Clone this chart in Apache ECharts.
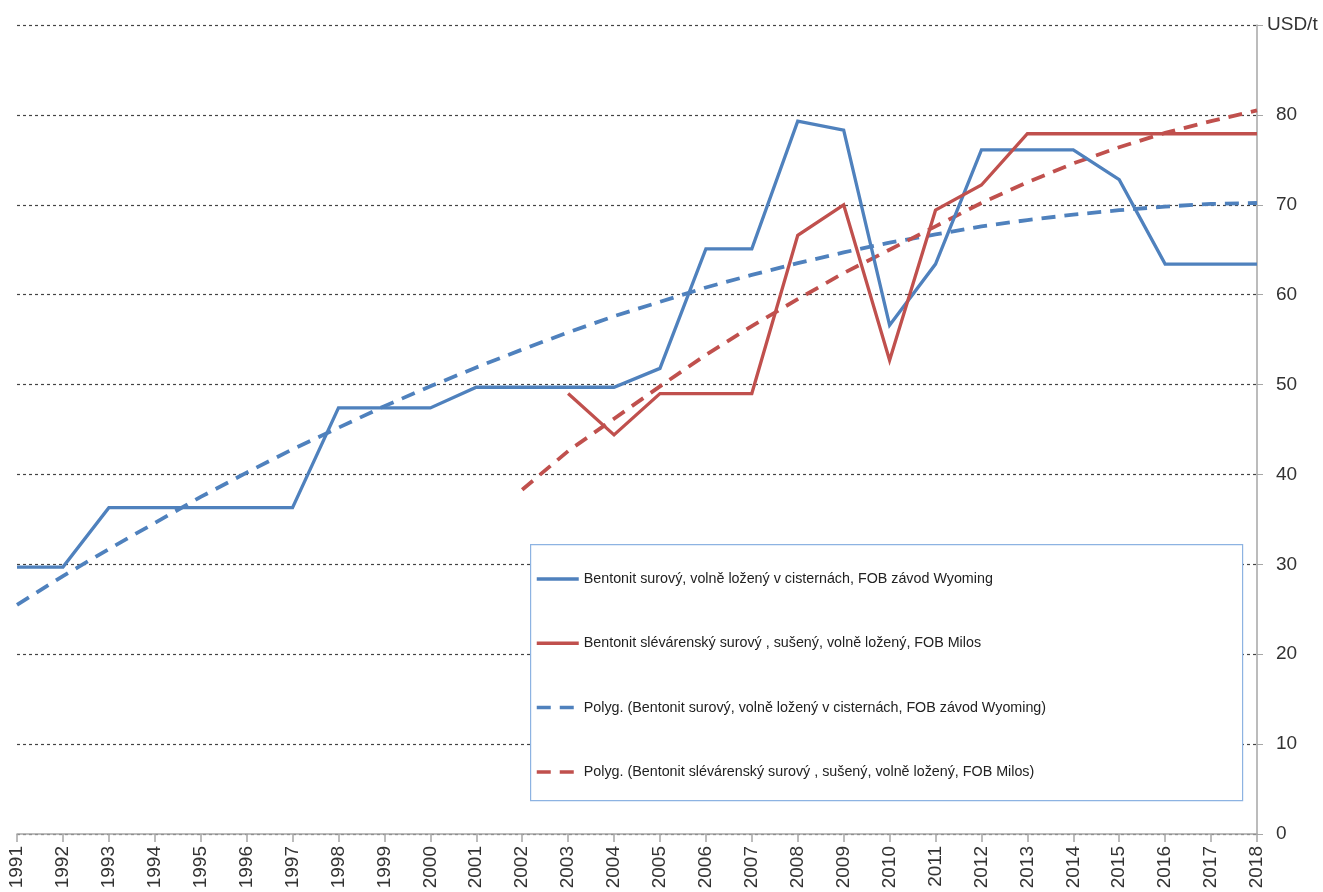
<!DOCTYPE html>
<html>
<head>
<meta charset="utf-8">
<title>Bentonit – ceny USD/t</title>
<script src="https://cdn.jsdelivr.net/npm/echarts@6/dist/echarts.min.js"></script>
<style>
  html, body { margin: 0; padding: 0; background: #fff; }
  #chart { width: 1323px; height: 892px; }
</style>
</head>
<body>
<div id="chart"></div>
<script>
// Years on the category axis
const years = ['1991','1992','1993','1994','1995','1996','1997','1998','1999','2000',
  '2001','2002','2003','2004','2005','2006','2007','2008','2009','2010',
  '2011','2012','2013','2014','2015','2016','2017','2018'];

// Bentonit surový, volně ložený v cisternách, FOB závod Wyoming (USD/t)
const wyoming = [29.7, 29.7, 36.3, 36.3, 36.3, 36.3, 36.3, 47.4, 47.4, 47.4,
  49.7, 49.7, 49.7, 49.7, 51.8, 65.1, 65.1, 79.3, 78.3, 56.6,
  63.4, 76.1, 76.1, 76.1, 72.8, 63.4, 63.4, 63.4];

// Bentonit slévárenský surový, sušený, volně ložený, FOB Milos (USD/t)
const milos = ['-', '-', '-', '-', '-', '-', '-', '-', '-', '-',
  '-', '-', 49.0, 44.4, 49.0, 49.0, 49.0, 66.6, 70.0, 52.7,
  69.4, 72.2, 77.9, 77.9, 77.9, 77.9, 77.9, 77.9];

// Polynomial trend of the Wyoming series
const wyomingTrend = [25.5, 28.7, 31.7, 34.6, 37.5, 40.2, 42.8, 45.2, 47.6, 49.8,
  51.9, 53.9, 55.8, 57.6, 59.2, 60.8, 62.2, 63.5, 64.7, 65.8,
  66.7, 67.6, 68.3, 68.9, 69.4, 69.8, 70.1, 70.2];

// Polynomial trend of the Milos series
const milosTrend = ['-', '-', '-', '-', '-', '-', '-', '-', '-', '-',
  '-', 38.3, 42.6, 46.2, 49.8, 53.3, 56.5, 59.5, 62.4, 65.0,
  67.6, 70.2, 72.5, 74.6, 76.4, 78.0, 79.3, 80.5];

const seriesNames = [
  'Bentonit surový, volně ložený v cisternách, FOB závod Wyoming',
  'Bentonit slévárenský surový , sušený, volně ložený, FOB Milos',
  'Polyg. (Bentonit surový, volně ložený v cisternách, FOB závod Wyoming)',
  'Polyg. (Bentonit slévárenský surový , sušený, volně ložený, FOB Milos)'
];

const BLUE = '#4f81bd';
const RED = '#c0504d';
const FONT = "'Liberation Sans', Arial, sans-serif";

const chart = echarts.init(document.getElementById('chart'), null, { renderer: 'canvas' });

function lineSeries(name, data, color, dashed) {
  return {
    name: name,
    type: 'line',
    data: data,
    symbol: 'none',
    showSymbol: false,
    connectNulls: false,
    smooth: false,
    lineStyle: {
      color: color,
      width: dashed ? 3.8 : 3.3,
      type: dashed ? [14, 9] : 'solid',
      cap: 'butt',
      join: 'miter'
    },
    itemStyle: { color: color },
    emphasis: { disabled: true },
    z: dashed ? 3 : 4
  };
}

chart.setOption({
  animation: false,
  backgroundColor: '#fff',
  grid: { left: 17, right: 66, top: 25, bottom: 58, containLabel: false },
  xAxis: {
    type: 'category',
    data: years,
    boundaryGap: false,
    axisLine: { show: true, lineStyle: { color: '#a6a6a6', width: 1.5 } },
    axisTick: { show: true, length: 8, lineStyle: { color: '#a6a6a6', width: 1.5 } },
    axisLabel: {
      rotate: 90,
      margin: 12,
      interval: 0,
      color: '#333',
      fontSize: 19,
      fontFamily: FONT
    },
    splitLine: { show: false }
  },
  yAxis: {
    type: 'value',
    position: 'right',
    min: 0,
    max: 90,
    interval: 10,
    axisLine: { show: true, lineStyle: { color: '#a6a6a6', width: 1.5 } },
    axisTick: { show: true, length: 6, lineStyle: { color: '#a6a6a6' } },
    axisLabel: {
      margin: 10,
      color: '#333',
      fontSize: 19,
      fontFamily: FONT,
      formatter: function (v) {
        return v === 90 ? 'USD/t' : '{n|' + v + '}';
      },
      rich: {
        n: { padding: [0, 0, 0, 9], fontSize: 19, color: '#333', fontFamily: FONT }
      }
    },
    splitLine: {
      show: true,
      lineStyle: { color: '#444', width: 1.2, type: [3, 3] }
    }
  },
  graphic: [{
    type: 'rect',
    left: 530,
    top: 544,
    shape: { width: 712, height: 256 },
    style: { fill: '#fff', stroke: '#8db3e2', lineWidth: 1.2 },
    z: 10
  }],
  legend: {
    orient: 'vertical',
    left: 535,
    top: 572,
    padding: 0,
    itemWidth: 42,
    itemHeight: 14,
    itemGap: 50.3,
    z: 20,
    selectedMode: false,
    itemStyle: { opacity: 0, borderWidth: 0 },
    lineStyle: { width: 3.5 },
    textStyle: { fontSize: 14.3, color: '#222', fontFamily: FONT },
    data: seriesNames
  },
  series: [
    lineSeries(seriesNames[0], wyoming, BLUE, false),
    lineSeries(seriesNames[1], milos, RED, false),
    lineSeries(seriesNames[2], wyomingTrend, BLUE, true),
    lineSeries(seriesNames[3], milosTrend, RED, true)
  ]
});
</script>
</body>
</html>
